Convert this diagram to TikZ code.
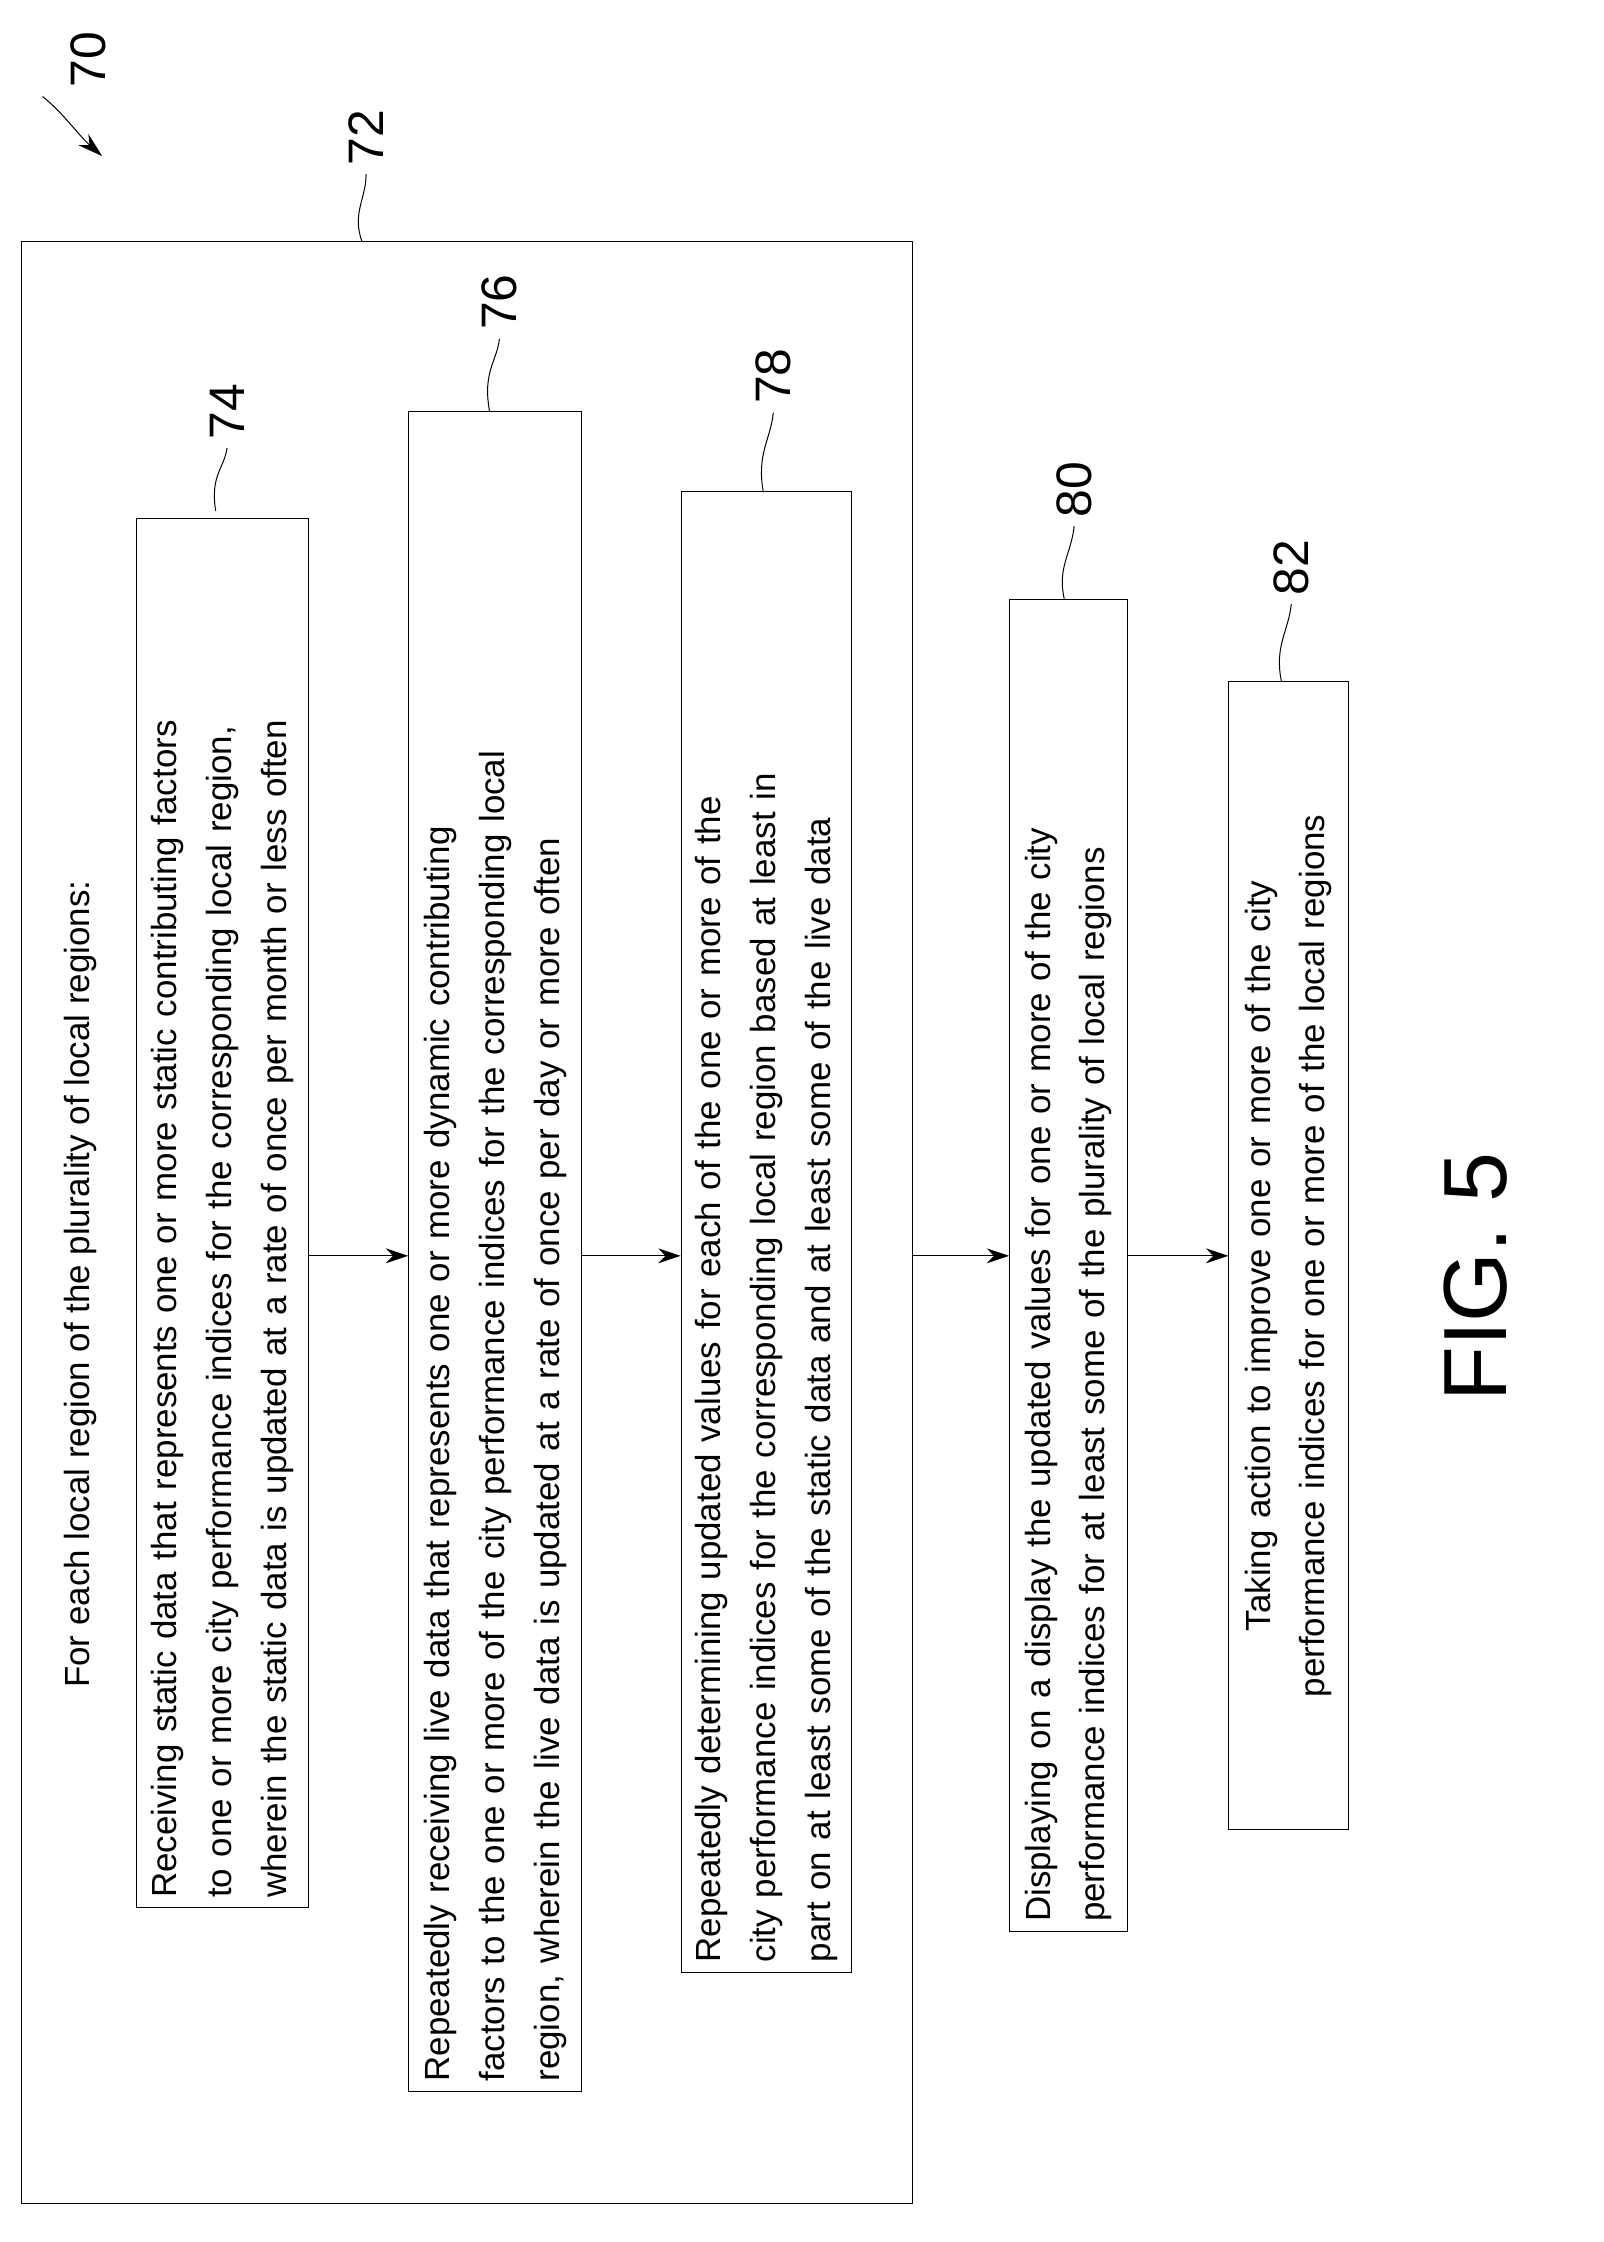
\documentclass[tikz,border=0pt]{standalone}
\usepackage{fontspec}
\setmainfont{Liberation Sans}
\usetikzlibrary{arrows.meta}

\tikzset{
  stepbox/.style={draw,thin,rotate=90,inner sep=4pt,font=\fontsize{14}{22}\selectfont},
  reflabel/.style={font=\fontsize{20}{24}\selectfont,rotate=90},
  leader/.style={thin},
  flow/.style={thin,-{Stealth[length=9pt,width=6pt]}}
}

\begin{document}
\begin{tikzpicture}[x=0.02cm,y=0.02cm]
        \useasboundingbox (0,0) rectangle (1130,-1580);

        \coordinate (flowline) at (0,-885);

        % outer frame
        \draw[thin] (15,-170) rectangle (643,-1553);
        \coordinate (frame72) at (643,-885);
        \node[rotate=90,font=\fontsize{14}{22}\selectfont] (title) at (57,-905) {For each local region of the plurality of local regions:};

        \node[stepbox,text width=19.3cm,minimum height=2.42cm,align=left] (s74) at (157,-855)
          {Receiving static data that represents one or more static contributing factors\\ to one or more city performance indices for the corresponding local region,\\ wherein the static data is updated at a rate of once per month or less often};
        \node[stepbox,text width=23.4cm,minimum height=2.44cm,align=left] (s76) at (349,-882)
          {Repeatedly receiving live data that represents one or more dynamic contributing\\ factors to the one or more of the city performance indices for the corresponding local\\ region, wherein the live data is updated at a rate of once per day or more often};
        \node[stepbox,text width=20.6cm,minimum height=2.4cm,align=left] (s78) at (540,-868)
          {Repeatedly determining updated values for each of the one or more of the\\ city performance indices for the corresponding local region based at least in\\ part on at least some of the static data and at least some of the live data};
        \node[stepbox,text width=18.5cm,minimum height=1.66cm,align=left] (s80) at (753,-892)
          {Displaying on a display the updated values for one or more of the city\\ performance indices for at least some of the plurality of local regions};
        \node[stepbox,text width=15.9cm,minimum height=1.68cm,align=center] (s82) at (908,-885)
          {Taking action to improve one or more of the city\\ performance indices for one or more of the local regions};

        \draw[flow] (s74.south |- flowline) -- (s76.north |- flowline);
        \draw[flow] (s76.south |- flowline) -- (s78.north |- flowline);
        \draw[flow] (frame72) -- (s80.north |- flowline);
        \draw[flow] (s80.south |- flowline) -- (s82.north |- flowline);

        % reference numerals
        \node[reflabel] (n70) at (62,-42) {70};
        \coordinate (a70) at (30,-68);
        \draw[thin,-{Stealth[length=10pt,width=6pt]}] (a70) .. controls (45,-80) and (55,-95) .. (72,-110);
        \node[reflabel] (n72) at (258,-97) {72};
        \draw[leader] (n72.west) .. controls (258,-140) and (248,-150) .. (255,-170);
        \node[reflabel] (n74) at (160,-290) {74};
        \draw[leader] (n74.west) .. controls (158,-330) and (148,-335) .. (152,-360);
        \node[reflabel] (n76) at (352,-213) {76};
        \draw[leader] (n76.west) .. controls (350,-255) and (340,-262) .. (345,-290);
        \node[reflabel] (n78) at (545,-265) {78};
        \draw[leader] (n78.west) .. controls (543,-310) and (533,-320) .. (538,-347);
        \node[reflabel] (n80) at (757,-345) {80};
        \draw[leader] (n80.west) .. controls (755,-390) and (745,-400) .. (750,-422);
        \node[reflabel] (n82) at (910,-400) {82};
        \draw[leader] (n82.west) .. controls (908,-445) and (898,-455) .. (903,-480);

        \node[rotate=90,font=\fontsize{36}{40}\selectfont] (fig) at (1040,-900) {FIG. 5};
\end{tikzpicture}
\end{document}
